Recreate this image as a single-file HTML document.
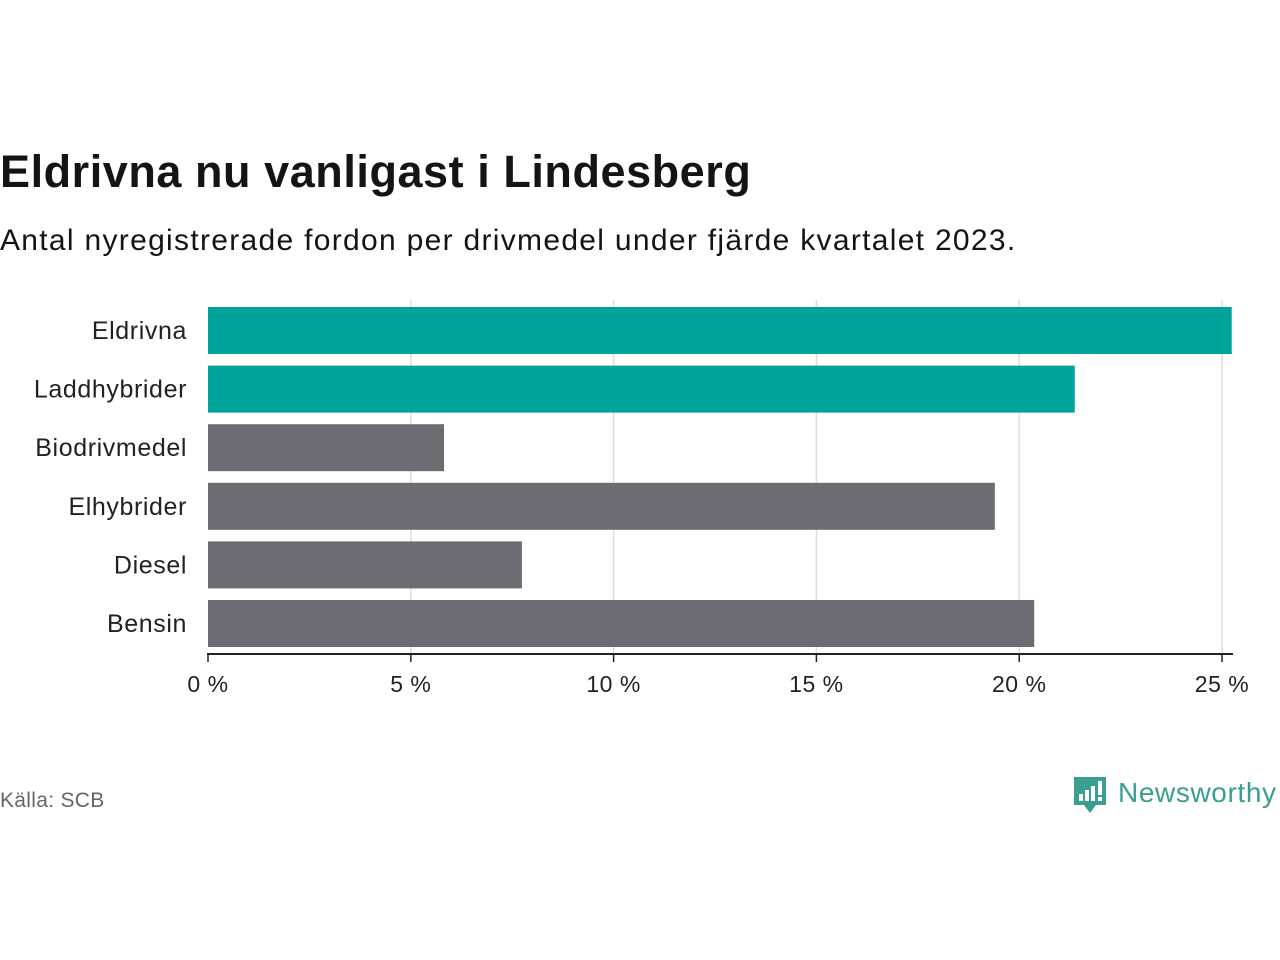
<!DOCTYPE html>
<html><head><meta charset="utf-8">
<style>
body{margin:0;background:#fff;width:1280px;height:960px;overflow:hidden;font-family:"Liberation Sans",sans-serif;}
#title{position:absolute;left:0;top:146px;font-size:45px;font-weight:bold;color:#141414;margin:0;letter-spacing:0.55px}
#sub{position:absolute;left:0;top:224px;font-size:30px;color:#141414;letter-spacing:1.3px}
#src{position:absolute;left:0;top:789px;font-size:21px;color:#666;letter-spacing:0.3px}
#logo{position:absolute;left:1072px;top:775px}
</style></head><body>
<h1 id="title">Eldrivna nu vanligast i Lindesberg</h1>
<div id="sub">Antal nyregistrerade fordon per drivmedel under fjärde kvartalet 2023.</div>
<svg id="chart" width="1280" height="960" style="position:absolute;left:0;top:0"></svg>
<div id="src">Källa: SCB</div>
<svg id="logo" width="208" height="44">
<path d="M2 2h32v28h-10l-6 8-6-8H2z" fill="#3a9e90"/>
<rect x="7" y="19" width="4" height="7" fill="#fff"/><rect x="13" y="15" width="4" height="11" fill="#fff"/><rect x="19" y="11" width="4" height="15" fill="#fff"/><rect x="26" y="6" width="4" height="14" fill="#fff"/><rect x="26" y="22" width="4" height="4" fill="#fff"/>
<text x="46" y="27" font-family="Liberation Sans, sans-serif" font-size="28" fill="#3a9e90" textLength="158">Newsworthy</text>
</svg>
<script>
const categories=["Eldrivna","Laddhybrider","Biodrivmedel","Elhybrider","Diesel","Bensin"];
const values=[25.24,21.37,5.82,19.4,7.74,20.37];
const highlight=[true,true,false,false,false,false];
const ticks=[0,5,10,15,20,25];
const svg=document.getElementById('chart');
const NS='http://www.w3.org/2000/svg';
const x=v=>208+v*(1222-208)/25;
const y=i=>307+i*58.6;
function mk(t,a){const e=document.createElementNS(NS,t);for(const k in a)e.setAttribute(k,a[k]);svg.appendChild(e);return e;}
ticks.forEach(t=>{
 if(t>0){const g=mk('line',{x1:x(t),x2:x(t),y1:300,y2:654,stroke:'#ddd','stroke-width':1.5});
 
 }
 const tk=mk('line',{x1:x(t),x2:x(t),y1:654,y2:662,stroke:'#222','stroke-width':1.5});
 
 
 const l=mk('text',{x:x(t),y:692,'text-anchor':'middle','font-size':23,fill:'#222','font-family':'Liberation Sans, sans-serif','letter-spacing':0.5});
 l.textContent=t+' %';
 
 
});
categories.forEach((c,i)=>{
 const r=mk('rect',{x:x(0),y:y(i),width:x(values[i])-x(0),height:47,fill:highlight[i]?'#00a39a':'#6d6c73'});
 
 
 const t=mk('text',{x:187,y:y(i)+32,'text-anchor':'end','font-size':25,fill:'#222','font-family':'Liberation Sans, sans-serif','letter-spacing':0.6});
 t.textContent=c;
 
 
});
const ax=mk('line',{x1:207,x2:1233,y1:654,y2:654,stroke:'#222','stroke-width':2});


</script>
</body></html>
